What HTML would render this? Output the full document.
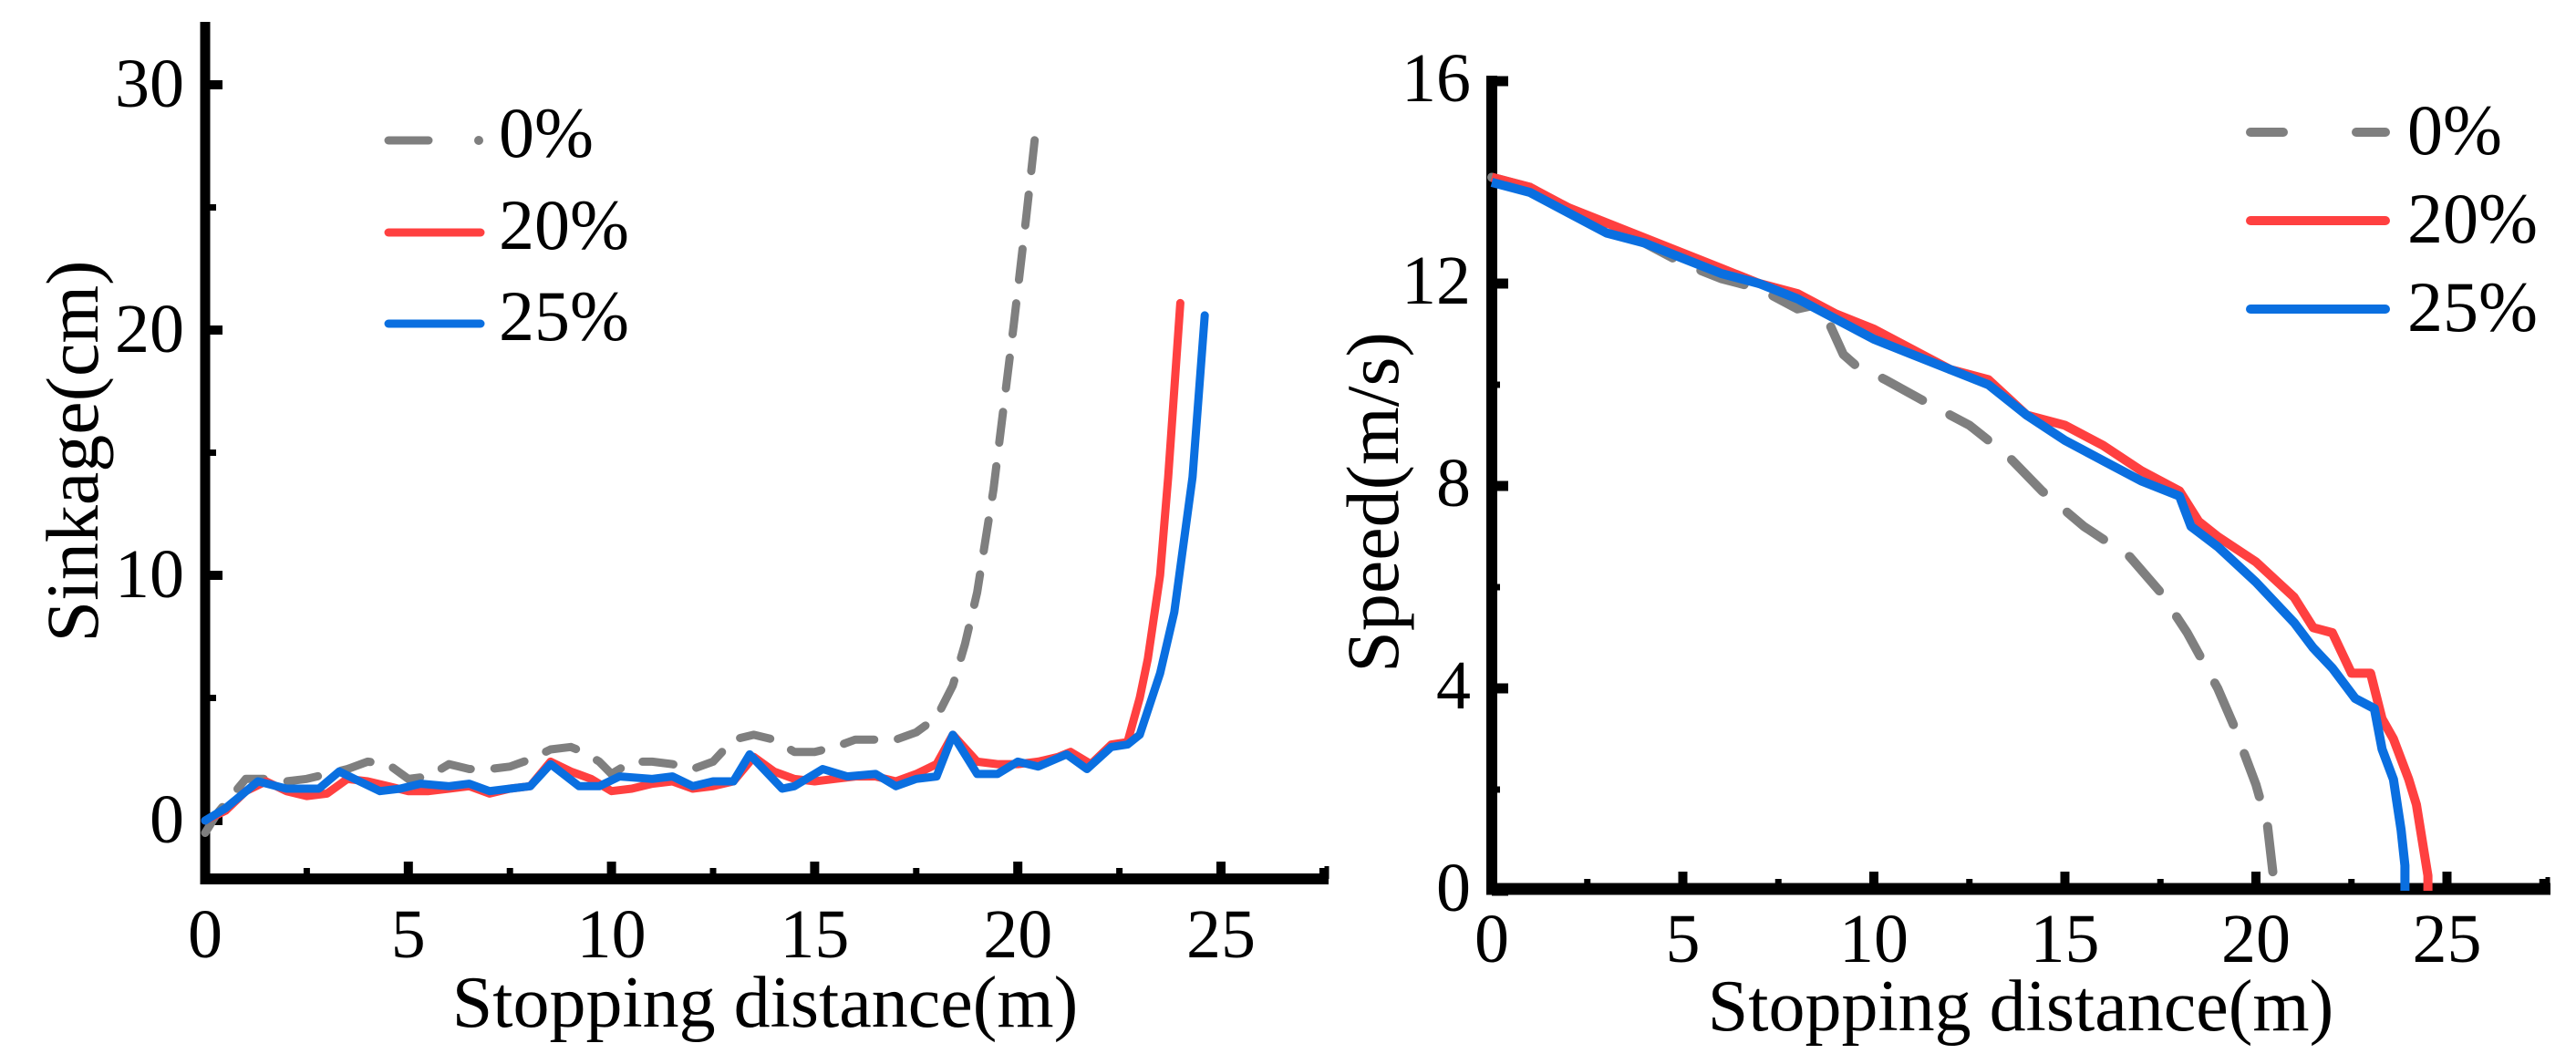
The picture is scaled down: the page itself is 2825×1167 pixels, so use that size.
<!DOCTYPE html>
<html><head><meta charset="utf-8">
<style>
html,body{margin:0;padding:0;background:#fff;}
svg{display:block;}
text{font-family:"Liberation Serif",serif;fill:#000;}
</style></head>
<body>
<svg id="fig" width="2825" height="1167" viewBox="0 0 2825 1167" xmlns="http://www.w3.org/2000/svg">
<g id="left"></g>
<g id="right"></g>
</svg>
<script>
// ---------- Sinkage chart data ----------
const sinkX0 = [0,0.3,0.6,1,1.5,2,2.5,3,3.5,4,4.5,5,5.5,6,6.5,7,7.5,8,8.5,9,9.3,9.7,10,10.5,11,11.5,12,12.5,13,13.5,14,14.5,15,15.5,16,16.5,17,17.5,18,18.4,18.7,19,19.4,19.9,20.2,20.45];
const sinkY0 = [-0.5,0.3,0.9,1.7,1.7,1.6,1.7,1.9,2.1,2.4,2.3,1.7,1.8,2.3,2.1,2.1,2.2,2.5,2.9,3.0,2.8,2.4,1.9,2.4,2.4,2.3,2.1,2.4,3.3,3.5,3.3,2.8,2.8,3.0,3.3,3.3,3.3,3.6,4.2,5.5,7.2,9.3,13.5,20.2,24.5,28.3];
const sinkX20 = [0,0.5,1,1.5,2,2.5,3,3.5,4,4.5,5,5.5,6,6.5,7,7.5,8,8.5,9,9.5,10,10.5,11,11.5,12,12.5,13,13.5,14,14.5,15,15.5,16,16.5,17,17.5,18,18.4,19,19.5,20,20.5,21,21.3,21.8,22.3,22.7,23.0,23.2,23.5,23.7,24.0];
const sinkY20 = [0,0.4,1.2,1.6,1.2,1.0,1.1,1.7,1.6,1.4,1.2,1.2,1.3,1.4,1.1,1.3,1.4,2.4,2.0,1.7,1.2,1.3,1.5,1.6,1.3,1.4,1.6,2.6,2.0,1.7,1.6,1.7,1.8,1.8,1.6,1.9,2.3,3.5,2.4,2.3,2.3,2.4,2.6,2.8,2.3,3.1,3.2,5,6.6,10,14,21.1];
const sinkX25 = [0,0.5,1.3,2,2.8,3.3,3.8,4.3,4.8,5.3,6,6.5,7,7.5,8,8.5,9.2,9.7,10.2,11,11.5,12,12.5,13,13.4,13.8,14.2,14.5,15.2,15.8,16.5,17,17.5,18,18.4,19,19.5,20,20.5,21.2,21.7,22.3,22.7,23.0,23.5,23.85,24.3,24.6];
const sinkY25 = [0,0.5,1.6,1.3,1.3,2.0,1.6,1.2,1.3,1.5,1.4,1.5,1.2,1.3,1.4,2.3,1.4,1.4,1.8,1.7,1.8,1.4,1.6,1.6,2.7,2.0,1.3,1.4,2.1,1.8,1.9,1.4,1.7,1.8,3.5,1.9,1.9,2.4,2.2,2.7,2.1,3.0,3.1,3.5,6,8.5,14,20.6];
const sinkXTicks = [0,5,10,15,20,25];
const sinkYTicks = [0,10,20,30];
const sinkLegend = ['0%','20%','25%'];

// ---------- Speed chart data ----------
const spdX0 = [0,1,2,3,4,5,6,7,8,8.6,9.2,9.5,10.3,11.5,12.5,13.5,14.4,15.5,16.7,17.5,18.2,19.0,19.4,20.0,20.3,20.5];
const spdY0 = [14.1,13.9,13.5,13.1,12.8,12.4,12.1,11.9,11.5,11.6,10.6,10.4,10.1,9.6,9.2,8.6,7.9,7.2,6.6,5.9,5.1,4.0,3.3,2.1,1.3,0];
const spdX20 = [0,1,2,3,4,5,6,7,8,9,10,11,12,13,14,15,16,17,18,18.5,19,20,21,21.5,22,22.5,23,23.3,23.6,24,24.2,24.5,24.5];
const spdY20 = [14.1,13.9,13.5,13.2,12.9,12.6,12.3,12.0,11.8,11.4,11.1,10.7,10.3,10.1,9.4,9.2,8.8,8.3,7.9,7.3,7.0,6.5,5.8,5.2,5.1,4.3,4.3,3.4,3.0,2.2,1.7,0.3,0];
const spdX25 = [0,1,2,3,4,5,6,7,8,9,10,11,12,13,14,15,16,17,18,18.3,19,20,21,21.5,22,22.6,23.1,23.3,23.6,23.8,23.9,23.9];
const spdY25 = [14.0,13.8,13.4,13.0,12.8,12.5,12.2,12.0,11.7,11.3,10.9,10.6,10.3,10.0,9.4,8.9,8.5,8.1,7.8,7.2,6.8,6.1,5.3,4.8,4.4,3.8,3.6,2.8,2.2,1.2,0.5,0];
const spdXTicks = [0,5,10,15,20,25];
const spdYTicks = [0,4,8,12,16];
const spdLegend = ['0%','20%','25%'];

const NS='http://www.w3.org/2000/svg';
const COL=['#7f7f7f','#ff4040','#0a6fe0'];
function mk(parent,tag,attrs){const e=document.createElementNS(NS,tag);for(const k in attrs)e.setAttribute(k,attrs[k]);parent.appendChild(e);return e;}

// ---------- Left chart ----------
(function(){
  const g=document.getElementById('left');
  const x=v=>225+v*44.56, y=v=>900-v*26.9;
  const xa=mk(g,'line',{x1:225,y1:964,x2:1457,y2:964,stroke:'#000','stroke-width':12});
  
  
  const ya=mk(g,'line',{x1:225,y1:24,x2:225,y2:970,stroke:'#000','stroke-width':11});
  
  
  mk(g,'line',{x1:1455,y1:950,x2:1455,y2:964,stroke:'#000','stroke-width':5});
  for(let v=0;v<=27.5;v+=2.5){const maj=v%5===0;mk(g,'line',{x1:x(v),y1:964,x2:x(v),y2:maj?945:952,stroke:'#000','stroke-width':maj?10:7});}
  for(let v=0;v<=30;v+=5){const maj=v%10===0;mk(g,'line',{x1:225,y1:y(v),x2:maj?244:237,y2:y(v),stroke:'#000','stroke-width':maj?10:7});}
  sinkXTicks.forEach(v=>{const t=mk(g,'text',{x:x(v),y:1050,'font-size':76,'text-anchor':'middle'});t.textContent=v;
    
    });
  sinkYTicks.forEach(v=>{const t=mk(g,'text',{x:202,y:y(v)+24,'font-size':76,'text-anchor':'end'});t.textContent=v;
    
    });
  const xt=mk(g,'text',{x:839,y:1126,'font-size':80,'text-anchor':'middle'});xt.textContent='Stopping distance(m)';
  
  
  const yt=mk(g,'text',{x:0,y:0,'font-size':82,'text-anchor':'middle',transform:'translate(107,495) rotate(-90)'});yt.textContent='Sinkage(cm)';
  
  
  const series=[[sinkX0,sinkY0],[sinkX20,sinkY20],[sinkX25,sinkY25]];
  const names=['series-0pct','series-20pct','series-25pct'];
  series.forEach((s,i)=>{
    const d=s[0].map((v,j)=>(j?'L':'M')+x(v).toFixed(1)+' '+y(s[1][j]).toFixed(1)).join(' ');
    const a={d:d,fill:'none',stroke:COL[i],'stroke-width':9,'stroke-linejoin':'round','stroke-linecap':'round'};
    if(i===0)a['stroke-dasharray']='34 26';
    const p=mk(g,'path',a);
    
    
  });
  const ly=[154,255,355];
  sinkLegend.forEach((l,i)=>{
    const le=mk(g,'g',{});
    
    
    if(i===0){mk(le,'line',{x1:426,y1:ly[i],x2:470,y2:ly[i],stroke:COL[0],'stroke-width':9,'stroke-linecap':'round'});
      mk(le,'circle',{cx:525,cy:ly[i],r:5,fill:COL[0]});}
    else mk(le,'line',{x1:426,y1:ly[i],x2:527,y2:ly[i],stroke:COL[i],'stroke-width':9,'stroke-linecap':'round'});
    const t=mk(le,'text',{x:547,y:ly[i]+18,'font-size':78});t.textContent=l;
  });
})();

// ---------- Right chart ----------
(function(){
  const g=document.getElementById('right');
  const x=v=>1636+v*41.9, y=v=>977-v*55.5;
  const xa=mk(g,'line',{x1:1630,y1:975,x2:2797,y2:975,stroke:'#000','stroke-width':13});
  
  
  const ya=mk(g,'line',{x1:1636,y1:83,x2:1636,y2:981,stroke:'#000','stroke-width':12});
  
  
  mk(g,'line',{x1:2794,y1:962,x2:2794,y2:975,stroke:'#000','stroke-width':5});
  for(let v=0;v<=27.5;v+=2.5){const maj=v%5===0;mk(g,'line',{x1:x(v),y1:975,x2:x(v),y2:maj?956:964,stroke:'#000','stroke-width':maj?10:7});}
  for(let v=0;v<=16;v+=2){const maj=v%4===0;mk(g,'line',{x1:1636,y1:y(v),x2:maj?1654:1645,y2:y(v),stroke:'#000','stroke-width':maj?11:7});}
  spdXTicks.forEach(v=>{const t=mk(g,'text',{x:x(v),y:1055,'font-size':76,'text-anchor':'middle'});t.textContent=v;
    
    });
  spdYTicks.forEach(v=>{const t=mk(g,'text',{x:1613,y:y(v)+22,'font-size':76,'text-anchor':'end'});t.textContent=v;
    
    });
  const xt=mk(g,'text',{x:2216,y:1130,'font-size':80,'text-anchor':'middle'});xt.textContent='Stopping distance(m)';
  
  
  const yt=mk(g,'text',{x:0,y:0,'font-size':82,'text-anchor':'middle',transform:'translate(1533,551) rotate(-90)'});yt.textContent='Speed(m/s)';
  
  
  const series=[[spdX0,spdY0],[spdX20,spdY20],[spdX25,spdY25]];
  const names=['series-0pct','series-20pct','series-25pct'];
  series.forEach((s,i)=>{
    const d=s[0].map((v,j)=>(j?'L':'M')+x(v).toFixed(1)+' '+y(s[1][j]).toFixed(1)).join(' ');
    const a={d:d,fill:'none',stroke:COL[i],'stroke-width':10,'stroke-linejoin':'round'};
    if(i===0){a['stroke-dasharray']='50 34';a['stroke-linecap']='round';}
    const p=mk(g,'path',a);
    
    
  });
  const ly=[145,242,339];
  spdLegend.forEach((l,i)=>{
    const le=mk(g,'g',{});
    
    
    const a={x1:2468,y1:ly[i],x2:2616,y2:ly[i],stroke:COL[i],'stroke-width':10,'stroke-linecap':'round'};
    if(i===0)a['stroke-dasharray']='36 80';
    mk(le,'line',a);
    const t=mk(le,'text',{x:2640,y:ly[i]+24,'font-size':78});t.textContent=l;
  });
})();
</script>
</body></html>
